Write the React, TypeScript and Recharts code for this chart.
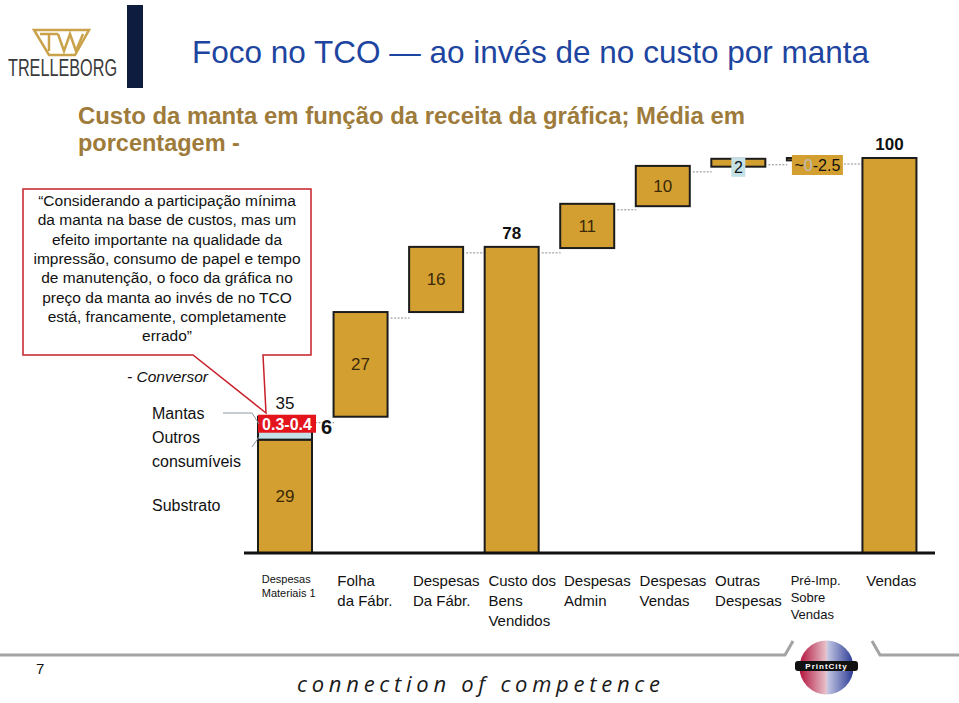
import React from "react";
import { Bar, BarChart, XAxis, YAxis } from "recharts";

// categories (one list of lines per tick)
const tickLines: string[][] = [
  ["Despesas", "Materiais 1"],
  ["Folha", "da Fábr."],
  ["Despesas", "Da Fábr."],
  ["Custo dos", "Bens", "Vendidos"],
  ["Despesas", "Admin"],
  ["Despesas", "Vendas"],
  ["Outras", "Despesas"],
  ["Pré-Imp.", "Sobre", "Vendas"],
  ["Vendas"],
];

// waterfall bottoms and tops, % of revenue
const barLow = [0, 34.5, 61, 0, 77.2, 87.8, 97.8, 99.4, 0];
const barHigh = [34.5, 61, 77.5, 77.5, 88.4, 98, 99.8, 100, 100];
// light blue slice on top of the first bar (outros consumíveis + mantas)
const consumiveis = [5.8, 0, 0, 0, 0, 0, 0, 0, 0];

const innerLabels = ["29", "27", "16", "", "11", "10", "", "", ""];
const topLabels = ["35", "", "", "78", "", "", "", "", "100"];

const boxText = [
  "Considerando a participação mínima",
  "da manta na base de custos, mas um",
  "efeito importante na qualidade da",
  "impressão, consumo de papel e tempo",
  "de manutenção, o foco da gráfica no",
  "preço da manta ao invés de no TCO",
  "está, francamente, completamente",
  "errado”",
];

const GOLD = "#D39F30";
const LIGHT_BLUE = "#C3E1E6";
const OUTLINE = "#1c1c1c";

const rows = tickLines.map((lines, i) => ({
  name: lines.join(" "),
  base: barLow[i],
  gold: barHigh[i] - barLow[i] - consumiveis[i],
  blue: consumiveis[i],
}));

function GoldShape(props: any) {
  const { x, y, width, height, index } = props;
  const r = rows[index];
  const unit = height / r.gold;
  const topY = y - r.blue * unit;
  const cx = x + width / 2;
  const last = index === rows.length - 1;
  return (
    <g>
      <rect x={x} y={y} width={width} height={Math.max(height, 1)} fill={GOLD} stroke={OUTLINE} strokeWidth={2} />
      {innerLabels[index] && (
        <text x={cx} y={y + height / 2 + 6} textAnchor="middle" fontSize={17} fill="#3a2808">
          {innerLabels[index]}
        </text>
      )}
      {topLabels[index] && (
        <text
          x={cx}
          y={topY - 8}
          textAnchor="middle"
          fontSize={17}
          fontWeight={index === 0 ? 400 : 700}
          fill="#111"
        >
          {topLabels[index]}
        </text>
      )}
      {index === 6 && (
        <g>
          <rect x={cx - 7} y={topY - 1} width={14} height={19} fill={LIGHT_BLUE} />
          <text x={cx} y={topY + 14} textAnchor="middle" fontSize={16} fill="#111">
            2
          </text>
        </g>
      )}
      {index === 7 && (
        <g>
          <rect x={cx - 22} y={topY - 3} width={51} height={20} fill={GOLD} />
          <text x={cx + 3.5} y={topY + 13} textAnchor="middle" fontSize={16} fill="#111">
            ~<tspan fill="#bdbdbd">0</tspan>-2.5
          </text>
        </g>
      )}
      {!last && (
        <line
          x1={x + width + 3}
          x2={x + width + 22}
          y1={topY + 6}
          y2={topY + 6}
          stroke="#8a8a8a"
          strokeWidth={1}
          strokeDasharray="2 1.5"
        />
      )}
    </g>
  );
}

function BlueShape(props: any) {
  const { x, y, width, height } = props;
  if (!height || height < 1) return null;
  return (
    <g>
      <rect x={x} y={y} width={width} height={height} fill={LIGHT_BLUE} stroke={OUTLINE} strokeWidth={2} />
      <rect x={x} y={y - 2} width={width + 4} height={18} fill="#E3141C" />
      <text x={x + width / 2 + 2} y={y + 13} textAnchor="middle" fontSize={16} fontWeight={700} fill="#fff">
        0.3-0.4
      </text>
      <text x={x + width + 9} y={y + 17} fontSize={20} fontWeight={700} fill="#111">
        6
      </text>
    </g>
  );
}

function CategoryTick(props: any) {
  const { x, y, index } = props;
  const lines = tickLines[index] || [];
  const small = index === 0;
  const mid = index === 7;
  const size = small ? 11 : mid ? 13 : 15;
  const gap = small ? 14 : mid ? 17 : 20;
  const first = small ? 30 : mid ? 32 : 33;
  return (
    <g>
      {lines.map((l, k) => (
        <text key={k} x={x - 23} y={y + first + k * gap} fontSize={size} fill="#111" textAnchor="start">
          {l}
        </text>
      ))}
    </g>
  );
}

function Decorations() {
  return (
    <svg
      width={959}
      height={703}
      style={{ position: "absolute", left: 0, top: 0, pointerEvents: "none" }}
      fontFamily="'Liberation Sans', Arial, sans-serif"
    >
      {/* logo */}
      <g stroke="#C9A24A" strokeWidth={2.5} fill="none">
        <polygon points="34,30 89,30 75,55 49,55" />
        <polyline points="40,34 58,34" />
        <polyline points="49,34 49,51" />
        <polyline points="58,34 64,51 70,34 76,51 83,34" />
      </g>
      <text x={8} y={76} fontSize={23} fill="#3a3a3a" textLength={109} lengthAdjust="spacingAndGlyphs">
        TRELLEBORG
      </text>
      <rect x={127} y={5} width={16} height={83} fill="#0E1C3F" />

      <text x={192} y={63} fontSize={31.5} fill="#1D45A0" textLength={677} lengthAdjust="spacingAndGlyphs">
        Foco no TCO — ao invés de no custo por manta
      </text>
      <text x={78} y={124} fontSize={23.5} fontWeight={700} fill="#9E7B3A" textLength={667} lengthAdjust="spacingAndGlyphs">
        Custo da manta em função da receita da gráfica; Média em
      </text>
      <text x={78} y={151} fontSize={23.5} fontWeight={700} fill="#9E7B3A">
        porcentagem -
      </text>

      {/* callout */}
      <polygon
        points="23,189 311,189 311,355 263,355 266,413 193,355 23,355"
        fill="#fff"
        stroke="#C8202A"
        strokeWidth={1.5}
      />
      {boxText.map((l, i) => (
        <text key={i} x={167} y={206 + i * 19.3} fontSize={15.5} textAnchor="middle" fill="#111">
          {i === 0 ? "“" + l : l}
        </text>
      ))}

      <text x={127} y={382} fontSize={15.5} fontStyle="italic" fill="#111">
        - Conversor
      </text>
      <text x={152} y={419} fontSize={16} fill="#111">Mantas</text>
      <text x={152} y={443} fontSize={16} fill="#111">Outros</text>
      <text x={152} y={467} fontSize={16} fill="#111">consumíveis</text>
      <text x={152} y={511} fontSize={16} fill="#111">Substrato</text>
      <polyline points="223,413 252,413 259,424" stroke="#8a9aa0" fill="none" strokeWidth={1} />
      <polyline points="252,447 259,437" stroke="#8a9aa0" fill="none" strokeWidth={1} />

      {/* footer */}
      <path d="M0 655 L785 655 L793 641 M872 641 L880 655 L959 655" stroke="#a3a3a3" strokeWidth={3} fill="none" />
      <text x={36} y={674} fontSize={15} fill="#111">7</text>
      <text
        x={297}
        y={692}
        fontSize={22}
        fontStyle="italic"
        fill="#1a1a1a"
        fontFamily="'Open Sans', sans-serif"
        textLength={363}
        lengthAdjust="spacing"
      >
        connection of competence
      </text>
      <defs>
        <linearGradient id="pc" x1="0" x2="1" y1="0" y2="0">
          <stop offset="0" stopColor="#B3123D" />
          <stop offset="0.5" stopColor="#E7C4CC" />
          <stop offset="0.5" stopColor="#C9CCE6" />
          <stop offset="1" stopColor="#2B3A94" />
        </linearGradient>
      </defs>
      <circle cx={826.5} cy={667.5} r={27} fill="url(#pc)" />
      <rect x={795} y={661} width={63} height={10} rx={3} fill="#111" />
      <text x={826.5} y={669} fontSize={8} fontWeight={700} fill="#fff" textAnchor="middle" letterSpacing={1}>
        PrintCity
      </text>
    </svg>
  );
}

export default function App() {
  return (
    <div
      style={{
        position: "absolute",
        left: 0,
        top: 0,
        width: 959,
        height: 703,
        background: "#fff",
        fontFamily: "'Liberation Sans', Arial, sans-serif",
      }}
    >
      <div style={{ position: "absolute", left: 0, top: 0 }}>
        <BarChart
          width={959}
          height={703}
          data={rows}
          margin={{ top: 158, right: 24, bottom: 60, left: 244 }}
          barSize={54}
        >
          <XAxis
            dataKey="name"
            axisLine={{ stroke: "#111", strokeWidth: 3 }}
            tickLine={false}
            tickSize={0}
            tickMargin={0}
            interval={0}
            height={90}
            padding={{ left: 3, right: 8 }}
            tick={(p: any) => <CategoryTick {...p} />}
          />
          <YAxis hide type="number" domain={[0, 100]} />
          <Bar dataKey="base" stackId="w" fill="transparent" isAnimationActive={false} />
          <Bar
            dataKey="gold"
            stackId="w"
            fill={GOLD}
            isAnimationActive={false}
            shape={(p: any) => <GoldShape {...p} />}
          />
          <Bar
            dataKey="blue"
            stackId="w"
            fill={LIGHT_BLUE}
            isAnimationActive={false}
            shape={(p: any) => <BlueShape {...p} />}
          />
        </BarChart>
      </div>
      <Decorations />
    </div>
  );
}
